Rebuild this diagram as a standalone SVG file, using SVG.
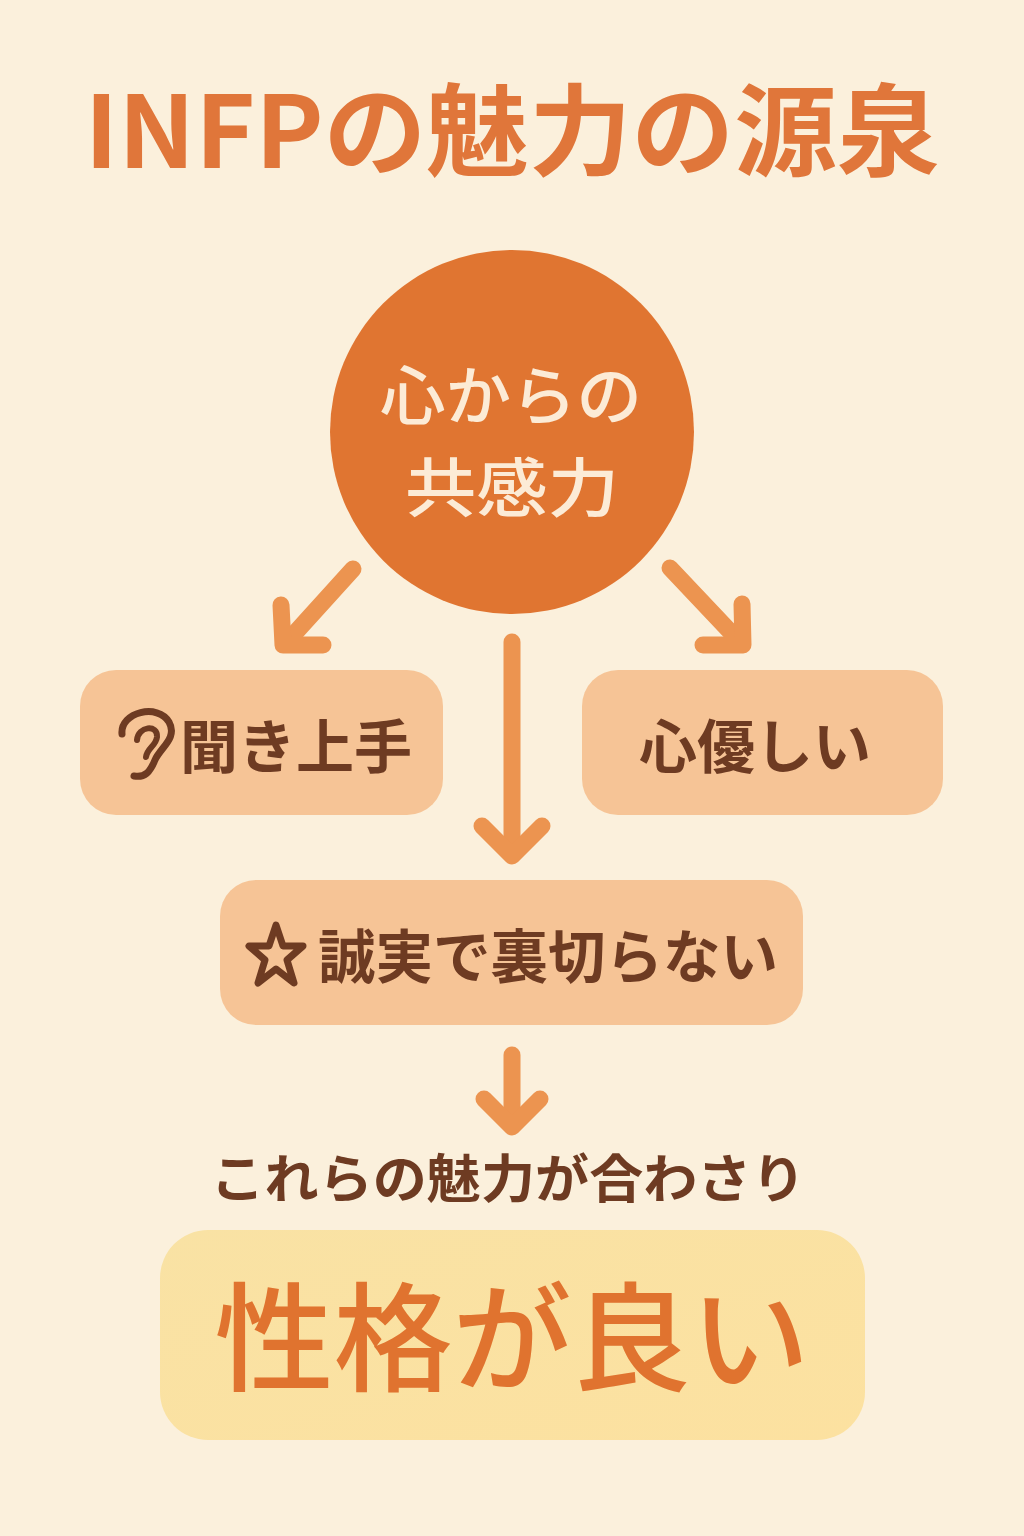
<svg xmlns="http://www.w3.org/2000/svg" width="1024" height="1536" viewBox="0 0 1024 1536">
<defs>
<style>
.jp{font-family:"Noto Sans CJK JP","Noto Sans",sans-serif;}
.title{font-size:100px;font-weight:700;fill:#E0763A;}
.circ{font-size:64px;font-weight:500;fill:#FCEBD6;}
.lbl{font-size:58px;font-weight:700;fill:#6E3B22;}
.sub{font-size:52px;font-weight:700;fill:#6E3B22;}
.big{font-size:118px;font-weight:500;fill:#E0732F;}
.box{fill:#F6C496;}
.conn{stroke:#EC9450;stroke-width:17;stroke-linecap:round;stroke-linejoin:round;fill:none;}
.icon{fill:none;stroke:#6E3B22;stroke-linecap:round;stroke-linejoin:round;}
</style>
<linearGradient id="yg" x1="0" y1="0" x2="1" y2="1">
<stop offset="0" stop-color="#F9E2A4"/>
<stop offset="1" stop-color="#FCE1A0"/>
</linearGradient>
</defs>
<rect width="1024" height="1536" fill="#FBF0DC"/>
<g id="title">
<text class="jp title" x="512" y="168" text-anchor="middle" textLength="855" lengthAdjust="spacingAndGlyphs">INFPの魅力の源泉</text>
</g>
<g id="core">
<circle cx="512" cy="432" r="182" fill="#E07531"/>
<text class="jp circ" x="511" y="419" text-anchor="middle" textLength="262" lengthAdjust="spacingAndGlyphs">心からの</text>
<text class="jp circ" x="512" y="511" text-anchor="middle" textLength="214" lengthAdjust="spacingAndGlyphs">共感力</text>
</g>
<g id="connectors">
<path class="conn" d="M353,569 L286,643"/>
<path class="conn" d="M281,605 L283,645 L323,645"/>
<path class="conn" d="M670,568 L739,641"/>
<path class="conn" d="M742,604 L743,645 L703,645"/>
<path class="conn" d="M512,642 L512,854"/>
<path class="conn" d="M482,826 L512,856 L542,826"/>
<path class="conn" d="M512,1055 L512,1125"/>
<path class="conn" d="M484,1099 L512,1127 L540,1099"/>
</g>
<g id="listener">
<rect class="box" x="80" y="670" width="363" height="145" rx="36"/>
<path class="icon" stroke-width="7" d="M122,734 C120,712 158,703 169,722 C178,738 160,748 155,760 C150,772 145,778 134,776"/>
<path class="icon" stroke-width="6" d="M137,740 C138,726 158,724 157,737 C156,746 147,748 146,757"/>
<text class="jp lbl" x="180" y="768">聞き上手</text>
</g>
<g id="kind">
<rect class="box" x="582" y="670" width="361" height="145" rx="36"/>
<text class="jp lbl" x="755" y="768" text-anchor="middle">心優しい</text>
</g>
<g id="honest">
<rect class="box" x="220" y="880" width="583" height="145" rx="36"/>
<path class="icon" stroke-width="7" d="M276,925 L283,946 L303,946 L287,960 L294,983 L276,969 L258,983 L265,960 L249,946 L269,946 Z"/>
<text class="jp lbl" x="548" y="978" text-anchor="middle" textLength="460" lengthAdjust="spacingAndGlyphs">誠実で裏切らない</text>
</g>
<g id="combined">
<text class="jp sub" x="508" y="1198" text-anchor="middle" textLength="595" lengthAdjust="spacingAndGlyphs">これらの魅力が合わさり</text>
</g>
<g id="result">
<rect x="160" y="1230" width="705" height="210" rx="48" fill="url(#yg)"/>
<text class="jp big" x="512" y="1382" text-anchor="middle" textLength="595" lengthAdjust="spacingAndGlyphs">性格が良い</text>
</g>
</svg>
